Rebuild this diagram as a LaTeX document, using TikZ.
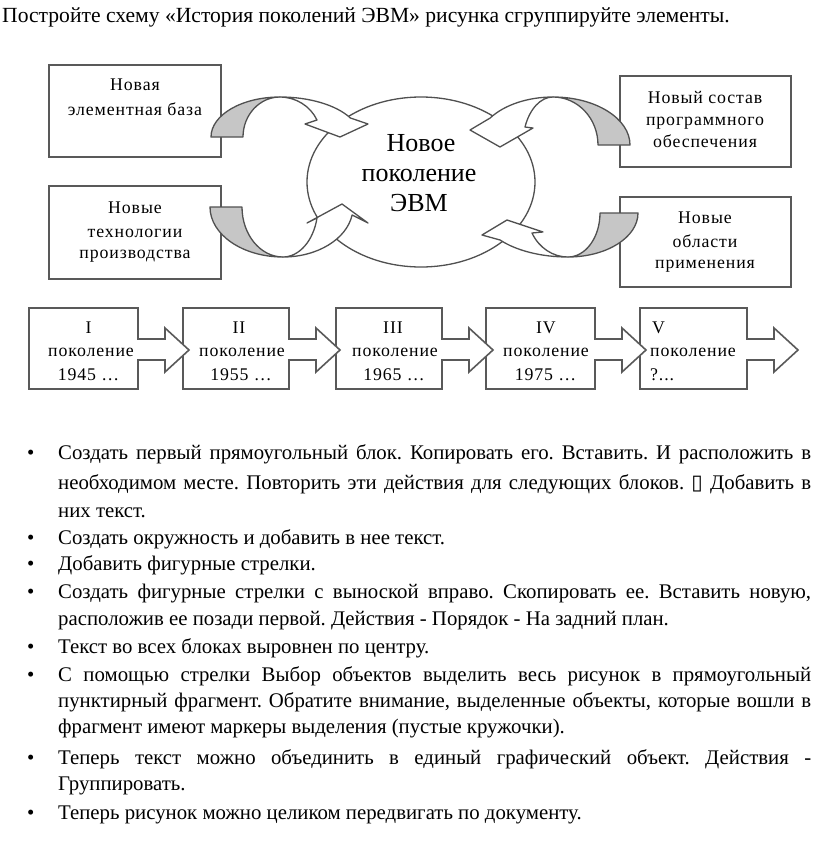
\documentclass[tikz,border=0pt]{standalone}
\usepackage{fontspec}
\setmainfont{Liberation Serif}
\newfontfamily\diagfont[LetterSpace=5]{Liberation Serif}
\newfontfamily\symfont{DejaVu Sans}
\usetikzlibrary{shapes.geometric}
\definecolor{boxc}{HTML}{595959}
\definecolor{arrc}{HTML}{505050}
\definecolor{shade}{HTML}{C6C6C6}
\frenchspacing
\newcommand\dgf{\diagfont\fontsize{17.8}{20}\selectfont}
\newcommand\elf{\fontsize{26}{30}\selectfont}
\newcommand\bdf{\fontsize{20.8}{25}\selectfont}
\newcommand\hdf{\fontsize{21.6}{25}\selectfont}
\newcommand\jl[1]{\hbox to 753pt{#1}}
\tikzset{
  boxst/.style={draw=boxc, line width=1.6pt, fill=white, inner sep=0pt, outer sep=0pt},
  dtxt/.style={font=\dgf, anchor=base, inner sep=0pt},
  dtxtl/.style={font=\dgf, anchor=base west, inner sep=0pt},
  etxt/.style={font=\elf, anchor=base, inner sep=0pt},
  btxt/.style={font=\bdf, anchor=base west, inner sep=0pt},
  back/.style={draw=arrc, fill=shade, line width=1.3pt, line join=round},
  front/.style={draw=arrc, fill=white, line width=1.3pt, line join=round},
  chainst/.style={draw=boxc, fill=white, line width=1.6pt, line join=miter},
}
\begin{document}
\begin{tikzpicture}[x=1pt,y=-1pt]
\useasboundingbox[fill=white] (0,0) rectangle (816,852);

% header
\node[btxt, font=\hdf] (hdr) at (2,22) {Постройте схему «История поколений ЭВМ» рисунка сгруппируйте элементы.};

% top boxes
\node[boxst, minimum width=172pt, minimum height=92pt] (box1) at (135,111) {};
\node[boxst, minimum width=172pt, minimum height=93pt] (box2) at (135,232.5) {};
\node[boxst, minimum width=171pt, minimum height=91pt] (box3) at (705.5,121.5) {};
\node[boxst, minimum width=171pt, minimum height=90pt] (box4) at (705.5,242) {};

% ellipse
\node[draw=arrc, line width=1.3pt, fill=white, ellipse, minimum width=228pt, minimum height=170pt, inner sep=0pt] (evm) at (421,182) {};

% curved arrows: top-left
\draw[back] (211,137) arc[start angle=180,end angle=270,x radius=69,y radius=40]
  arc[start angle=270,end angle=180,x radius=37,y radius=40] -- cycle;
\draw[front] (280,97) arc[start angle=270,end angle=331.6,x radius=80,y radius=40]
  -- (368,124) -- (340,137) -- (305,124) -- (317,120)
  arc[start angle=334.8,end angle=270,x radius=41,y radius=40] -- cycle;
% bottom-left
\draw[back] (210,207) arc[start angle=180,end angle=90,x radius=73,y radius=50]
  arc[start angle=90,end angle=180,x radius=41,y radius=50] -- cycle;
\draw[front] (283,257) arc[start angle=90,end angle=9.2,x radius=70,y radius=50]
  -- (368,223) -- (342,204) -- (307,223) -- (317,218)
  arc[start angle=12.7,end angle=90,x radius=35,y radius=50] -- cycle;
% top-right
\draw[back] (630,145) arc[start angle=0,end angle=-90,x radius=77,y radius=48]
  arc[start angle=-90,end angle=0,x radius=45,y radius=48] -- cycle;
\draw[front] (553,97) arc[start angle=-90,end angle=-145.8,x radius=76,y radius=48]
  -- (470,130) -- (500,147) -- (533,128) -- (525,127)
  arc[start angle=-158,end angle=-90,x radius=30.2,y radius=48] -- cycle;
% bottom-right
\draw[back] (638,213) arc[start angle=0,end angle=90,x radius=70,y radius=44]
  arc[start angle=90,end angle=0,x radius=32,y radius=44] -- cycle;
\draw[front] (568,257) arc[start angle=90,end angle=142.1,x radius=86,y radius=44]
  -- (482,235) -- (507,220) -- (543,232) -- (532,233)
  arc[start angle=153,end angle=90,x radius=40.4,y radius=44] -- cycle;

% ellipse text
\node[etxt] (e1) at (421,151) {Новое};
\node[etxt] (e2) at (419,181) {поколение};
\node[etxt] (e3) at (419,211) {ЭВМ};

% box texts
\node[dtxt] (t11) at (135,90) {Новая};
\node[dtxt] (t12) at (135,115) {элементная база};
\node[dtxt] (t21) at (135,213) {Новые};
\node[dtxt] (t22) at (135,237) {технологии};
\node[dtxt] (t23) at (135,258) {производства};
\node[dtxt] (t31) at (705,103) {Новый состав};
\node[dtxt] (t32) at (705,125) {программного};
\node[dtxt] (t33) at (705,147) {обеспечения};
\node[dtxt] (t41) at (705,223) {Новые};
\node[dtxt] (t42) at (705,247) {области};
\node[dtxt] (t43) at (705,268) {применения};

% chain of generations
\foreach \L/\R in {640/747,486/595,336/442,183/289,29/138} {
  \draw[chainst] (\L,308) -- (\R,308) -- (\R,339) -- ({\R+27},339) -- ({\R+27},328)
    -- ({\R+51},350) -- ({\R+27},372) -- ({\R+27},360) -- (\R,360) -- (\R,389)
    -- (\L,389) -- cycle;
}
\node[dtxt] (g1a) at (88.5,333) {I};
\node[dtxt] (g1b) at (91,356) {поколение};
\node[dtxt] (g1c) at (88.5,380) {1945 …};
\node[dtxt] (g2a) at (239,333) {II};
\node[dtxt] (g2b) at (242,356) {поколение};
\node[dtxt] (g2c) at (241,380) {1955 …};
\node[dtxt] (g3a) at (393,333) {III};
\node[dtxt] (g3b) at (395,356) {поколение};
\node[dtxt] (g3c) at (394,380) {1965 …};
\node[dtxt] (g4a) at (546,333) {IV};
\node[dtxt] (g4b) at (546,356) {поколение};
\node[dtxt] (g4c) at (545.5,380) {1975 …};
\node[dtxtl] (g5a) at (652,333) {V};
\node[dtxtl] (g5b) at (650,356) {поколение};
\node[dtxtl] (g5c) at (650,380) {?...};

% bullet list
\foreach \y/\n in {459/b1,544/b2,570/b3,598/b4,653/b5,681/b6,764/b7,819/b8} {
  \node[btxt] (\n) at (27,\y) {•};
}
\node[btxt] (l1) at (58,459) {\jl{Создать первый прямоугольный блок. Копировать его. Вставить. И расположить в}};
\node[btxt] (l2) at (58,489) {\jl{необходимом месте. Повторить эти действия для следующих блоков. {\symfont ▯} Добавить в}};
\node[btxt] (l3) at (58,517) {них текст.};
\node[btxt] (l4) at (58,544) {Создать окружность и добавить в нее текст.};
\node[btxt] (l5) at (58,570) {Добавить фигурные стрелки.};
\node[btxt] (l6) at (58,598) {\jl{Создать фигурные стрелки с выноской вправо. Скопировать ее. Вставить новую,}};
\node[btxt] (l7) at (58,625) {расположив ее позади первой. Действия - Порядок - На задний план.};
\node[btxt] (l8) at (58,653) {Текст во всех блоках выровнен по центру.};
\node[btxt] (l9) at (58,681) {\jl{С помощью стрелки Выбор объектов выделить весь рисунок в прямоугольный}};
\node[btxt] (l10) at (58,707) {\jl{пунктирный фрагмент. Обратите внимание, выделенные объекты, которые вошли в}};
\node[btxt] (l11) at (58,733) {фрагмент имеют маркеры выделения (пустые кружочки).};
\node[btxt] (l12) at (58,764) {\jl{Теперь текст можно объединить в единый графический объект. Действия -}};
\node[btxt] (l13) at (58,790) {Группировать.};
\node[btxt] (l14) at (58,819) {Теперь рисунок можно целиком передвигать по документу.};
\end{tikzpicture}
\end{document}
